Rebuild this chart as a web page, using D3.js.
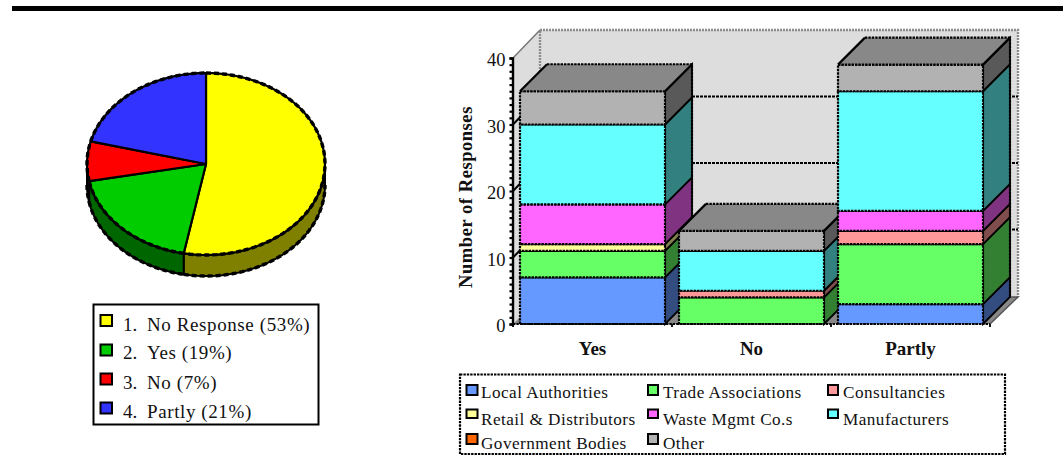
<!DOCTYPE html>
<html>
<head>
<meta charset="utf-8">
<script src="https://cdn.jsdelivr.net/npm/d3@7"></script>
<style>
  html, body { margin: 0; padding: 0; background: #fff; }
  svg { display: block; }
  text { font-family: "Liberation Serif", serif; fill: #111; }
</style>
</head>
<body>
<svg id="chart" width="1063" height="468"></svg>
<script>
// Survey responses, overall share
const pieLabels = ["No Response", "Yes", "No", "Partly"];
const pieValues = [53, 19, 7, 21];
const pieColors = ["#ffff00", "#00cc00", "#ff0000", "#3333ff"];

// Responses by respondent group
const categories = ["Yes", "No", "Partly"];
const groups = ["Local Authorities", "Trade Associations", "Consultancies", "Retail & Distributors",
                "Waste Mgmt Co.s", "Manufacturers", "Government Bodies", "Other"];
const localAuthorities = [7, 0, 3];
const tradeAssociations = [4, 4, 9];
const consultancies = [0, 1, 2];
const retailDistributors = [1, 0, 0];
const wasteMgmt = [6, 0, 3];
const manufacturers = [12, 6, 18];
const governmentBodies = [0, 0, 0];
const other = [5, 3, 4];
const groupValues = [localAuthorities, tradeAssociations, consultancies, retailDistributors,
                     wasteMgmt, manufacturers, governmentBodies, other];
const groupColors = ["#6699ff", "#66ff66", "#ff9999", "#ffff99", "#ff66ff", "#66ffff", "#ff6600", "#b2b2b2"];
const yTicks = [0, 10, 20, 30, 40];
const yMax = 40;

const svg = d3.select("#chart");

// Header rule
svg.append("rect").attr("x", 12).attr("y", 6).attr("width", 1051).attr("height", 5).attr("fill", "#000");

/* ---------- Tilted pie ---------- */
const pieCx = 206, pieCy = 164, pieRx = 119, pieRy = 91, pieDepth = 21;
const darken = c => { const k = d3.rgb(c); return d3.rgb(k.r / 2, k.g / 2, k.b / 2).formatHex(); };
const pieArcs = d3.pie().sort(null)(pieValues);
const rimX = a => pieCx + pieRx * Math.sin(a);
const rimY = a => pieCy - pieRy * Math.cos(a);
const rimSamples = (a0, a1) => d3.range(0, 61).map(i => a0 + (a1 - a0) * i / 60);
const polyline = d3.line();
const pieG = svg.append("g");

// Rim of the disc: only the part facing the viewer
pieArcs.forEach((d, i) => {
  const a0 = Math.max(d.startAngle, Math.PI / 2), a1 = Math.min(d.endAngle, 3 * Math.PI / 2);
  if (a1 <= a0) return;
  const top = rimSamples(a0, a1).map(a => [rimX(a), rimY(a)]);
  const bottom = top.map(p => [p[0], p[1] + pieDepth]).reverse();
  pieG.append("path").attr("d", polyline(top.concat(bottom)) + "Z")
    .attr("fill", darken(pieColors[i])).attr("stroke", "#000").attr("stroke-width", 2);
  pieG.append("path").attr("d", polyline(bottom)).attr("fill", "none")
    .attr("stroke", "#000").attr("stroke-width", 3.4).attr("stroke-dasharray", "5 3");
});

// Top face of the disc
pieArcs.forEach((d, i) => {
  const pts = rimSamples(d.startAngle, d.endAngle).map(a => [rimX(a), rimY(a)]);
  pieG.append("path").attr("d", polyline([[pieCx, pieCy]].concat(pts)) + "Z")
    .attr("fill", pieColors[i]).attr("stroke", "#000").attr("stroke-width", 2.2).attr("stroke-linejoin", "round");
  pieG.append("path").attr("d", polyline(pts)).attr("fill", "none")
    .attr("stroke", "#000").attr("stroke-width", 3.4).attr("stroke-dasharray", "5 3");
});

/* ---------- Pie legend ---------- */
const pieLegend = svg.append("g");
pieLegend.append("rect").attr("x", 93.5).attr("y", 304.5).attr("width", 225).attr("height", 120)
  .attr("fill", "#fff").attr("stroke", "#000").attr("stroke-width", 2);
const swatchY = [315, 344.5, 373.5, 402.5], legendBase = [331, 359, 389, 418];
pieLabels.forEach((name, i) => {
  pieLegend.append("rect").attr("x", 100.5).attr("y", swatchY[i]).attr("width", 11.5).attr("height", 11)
    .attr("fill", pieColors[i]).attr("stroke", "#000").attr("stroke-width", 2);
  pieLegend.append("text").attr("x", 123).attr("y", legendBase[i]).attr("font-size", 19).text(`${i + 1}.`);
  pieLegend.append("text").attr("x", 147).attr("y", legendBase[i]).attr("font-size", 19)
    .attr("letter-spacing", 0.6).text(`${name} (${pieValues[i]}%)`);
});

/* ---------- 3D stacked columns ---------- */
const depthX = 27, depthY = 27;
const x = d3.scaleBand().domain(categories).range([513, 990]).paddingInner(0.088).paddingOuter(0.044);
const y = d3.scaleLinear().domain([0, yMax]).range([324, 58]);
const wallLeft = x.range()[0], wallRight = x.range()[1];
const backX = 540, backRight = 1018, backBottom = y(0) - depthY;
const backY = v => y(v) - depthY - 1;

const plot = svg.append("g");
const poly = (pts, fill) => plot.append("path").attr("d", polyline(pts) + "Z").attr("fill", fill);

// Walls and floor
poly([[backX, backY(yMax)], [backRight, backY(yMax)], [backRight, backBottom], [backX, backBottom]], "#dddddd");
poly([[wallLeft, y(0)], [backX, backBottom], [backX, backY(yMax)], [wallLeft, y(yMax)]], "#dddddd");
poly([[wallLeft, y(0)], [backX, backBottom], [backRight, backBottom], [wallRight, y(0)]], "#888888");

plot.append("path")
  .attr("d", polyline([[backX, backBottom], [backX, backY(yMax)], [backRight, backY(yMax)], [backRight, backBottom]]))
  .attr("fill", "none").attr("stroke", "#8c8c8c").attr("stroke-width", 2.4).attr("stroke-dasharray", "2 1");
plot.append("path")
  .attr("d", polyline([[wallLeft, y(yMax)], [backX, backY(yMax)]]))
  .attr("fill", "none").attr("stroke", "#777").attr("stroke-width", 1.5);
plot.append("path")
  .attr("d", polyline([[wallRight, y(0)], [backRight, backBottom], [backX, backBottom]]))
  .attr("fill", "none").attr("stroke", "#555").attr("stroke-width", 1.5);

// Gridlines across the back wall, with their diagonals on the side wall
yTicks.filter(v => v > 0 && v < yMax).forEach(v => {
  plot.append("line").attr("x1", backX).attr("x2", backRight).attr("y1", backY(v)).attr("y2", backY(v))
    .attr("stroke", "#000").attr("stroke-width", 2).attr("stroke-dasharray", "3 1");
  plot.append("line").attr("x1", wallLeft).attr("x2", backX).attr("y1", y(v)).attr("y2", backY(v))
    .attr("stroke", "#000").attr("stroke-width", 2);
});

// Stacked columns, left to right so each hides the side of the one before
const stackRows = categories.map((c, ci) => {
  const row = { category: c };
  groups.forEach((g, gi) => { row[g] = groupValues[gi][ci]; });
  return row;
});
const layers = d3.stack().keys(groups)(stackRows);
const dashed = sel => sel.attr("stroke", "#000").attr("stroke-width", 2.2).attr("stroke-dasharray", "2.4 1");

categories.forEach((c, ci) => {
  const x0 = x(c), x1 = x0 + x.bandwidth();
  layers.forEach((layer, li) => {
    const [v0, v1] = layer[ci];
    if (v1 === v0) return;
    const fill = groupColors[li];
    // side face
    plot.append("path")
      .attr("d", polyline([[x1, y(v0)], [x1 + depthX, y(v0) - depthY], [x1 + depthX, y(v1) - depthY], [x1, y(v1)]]) + "Z")
      .attr("fill", darken(fill)).attr("stroke", "#000").attr("stroke-width", 1.8);
    // front face
    plot.append("rect").attr("x", x0).attr("y", y(v1)).attr("width", x1 - x0).attr("height", y(v0) - y(v1))
      .attr("fill", fill).call(dashed);
  });
  // lid
  const total = d3.sum(groupValues, s => s[ci]);
  plot.append("path")
    .attr("d", polyline([[x0, y(total)], [x0 + depthX, y(total) - depthY], [x1 + depthX, y(total) - depthY], [x1, y(total)]]) + "Z")
    .attr("fill", "#888888").attr("stroke", "none");
  plot.append("path").attr("d", polyline([[x0 + depthX, y(total) - depthY], [x1 + depthX, y(total) - depthY], [x1 + depthX, y(0) - depthY]]))
    .attr("fill", "none").call(dashed);
  plot.append("line").attr("x1", x0).attr("x2", x0 + depthX).attr("y1", y(total)).attr("y2", y(total) - depthY)
    .attr("stroke", "#000").attr("stroke-width", 2.2);
  plot.append("line").attr("x1", x1).attr("x2", x1 + depthX).attr("y1", y(total)).attr("y2", y(total) - depthY)
    .attr("stroke", "#000").attr("stroke-width", 2.2);
  plot.append("line").attr("x1", x0).attr("x2", x1).attr("y1", y(total)).attr("y2", y(total)).call(dashed);
});

// Value axis: a tick on every unit, labels on the tens
const yAxis = d3.axisLeft(y).tickValues(d3.range(0, yMax + 1)).tickSize(3)
  .tickFormat(v => yTicks.includes(v) ? v : "");
const yG = svg.append("g").attr("transform", `translate(${wallLeft - 0.5},0)`).call(yAxis);
yG.selectAll(".domain").attr("stroke", "#000").attr("stroke-width", 2.4);
yG.selectAll(".tick line").attr("stroke", "#000").attr("stroke-width", 2.2);
yG.selectAll(".tick text").attr("font-family", "Liberation Serif").attr("font-size", 18.5).attr("fill", "#111").attr("x", -7).attr("dy", "0.42em");

// Category axis
const xTicks = d3.range(0, categories.length + 1).map(i => wallLeft + i * x.step());
svg.append("g").selectAll("line").data(xTicks).join("line")
  .attr("x1", d => d).attr("x2", d => d).attr("y1", y(0)).attr("y2", y(0) + 3)
  .attr("stroke", "#000").attr("stroke-width", 1.8);
svg.append("line").attr("x1", wallLeft).attr("x2", wallRight).attr("y1", y(0)).attr("y2", y(0))
  .attr("stroke", "#000").attr("stroke-width", 2.2).attr("stroke-dasharray", "2.4 1");
svg.append("g").selectAll("text").data(categories).join("text")
  .attr("x", d => x(d) + x.bandwidth() / 2).attr("y", 355).attr("text-anchor", "middle")
  .attr("font-size", 19).attr("font-weight", "bold").text(d => d);

svg.append("text").attr("transform", "translate(472,197) rotate(-90)").attr("text-anchor", "middle")
  .attr("font-size", 18.5).attr("letter-spacing", 0.55).attr("font-weight", "bold").text("Number of Responses");

/* ---------- Column legend ---------- */
const legend = svg.append("g");
legend.append("rect").attr("x", 460).attr("y", 374.5).attr("width", 545).attr("height", 79.5)
  .attr("fill", "#fff").call(dashed);
const legendCols = [466, 648, 828], legendRows = [385, 409.5, 434], legendText = [398, 425, 449];
groups.forEach((name, i) => {
  const col = i % 3, row = Math.floor(i / 3);
  legend.append("rect").attr("x", legendCols[col] + (col ? 0 : 0.5)).attr("y", legendRows[row])
    .attr("width", col ? 10 : 11).attr("height", row === 1 ? 8.5 : 10)
    .attr("fill", groupColors[i]).attr("stroke", "#000").attr("stroke-width", 2);
  legend.append("text").attr("x", legendCols[col] + 15).attr("y", legendText[row])
    .attr("font-size", 17.2).attr("letter-spacing", 0.45).text(name);
});
</script>
</body>
</html>
